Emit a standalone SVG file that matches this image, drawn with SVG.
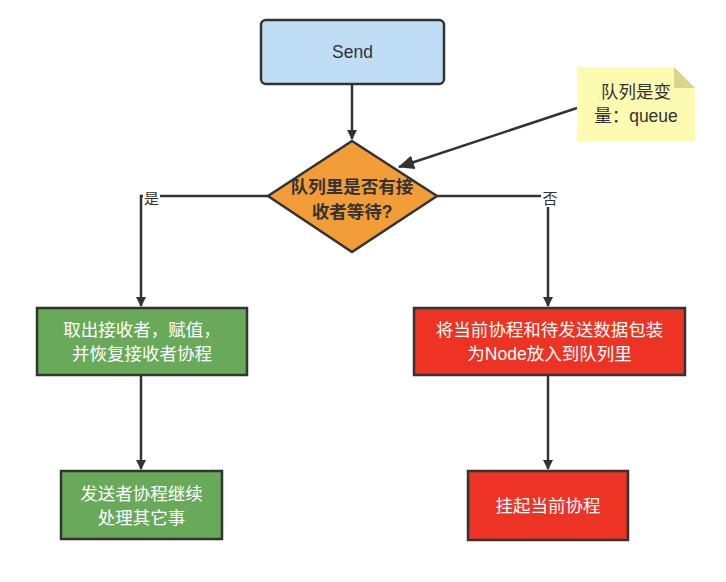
<svg xmlns="http://www.w3.org/2000/svg" width="726" height="582" viewBox="0 0 726 582">
<style>
.box{stroke:#333;stroke-width:2.5}
.conn{fill:none;stroke:#333;stroke-width:2.5}
.t{font-family:"Liberation Sans","Noto Sans CJK SC",sans-serif;font-size:17.5px;text-anchor:middle}
.w{fill:#fff}
.d{fill:#333}
.lbl{font-family:"Liberation Sans","Noto Sans CJK SC",sans-serif;font-size:15px;text-anchor:middle;fill:#333}
</style>
<defs>
<marker id="arr" markerWidth="10" markerHeight="10" refX="9" refY="5" orient="auto" markerUnits="userSpaceOnUse" viewBox="0 0 10 10">
<path d="M0,0 L10,5 L0,10 Z" fill="#333"/>
</marker>
<marker id="arrB" markerWidth="16" markerHeight="14" refX="15" refY="7" orient="auto" markerUnits="userSpaceOnUse" viewBox="0 0 16 14">
<path d="M0,0 L16,7 L0,14 Z" fill="#333"/>
</marker>
</defs>
<rect width="726" height="582" fill="#fff"/>
<g id="connectors">
<line class="conn" x1="352" y1="84" x2="352" y2="139" marker-end="url(#arr)"/>
<polyline class="conn" points="268,196 141,196 141,306" marker-end="url(#arr)"/>
<polyline class="conn" points="437,196 548,196 548,306" marker-end="url(#arr)"/>
<line class="conn" x1="141" y1="375" x2="141" y2="469" marker-end="url(#arr)"/>
<line class="conn" x1="548" y1="375" x2="548" y2="469" marker-end="url(#arr)"/>
<line class="conn" x1="577" y1="108" x2="399" y2="167" marker-end="url(#arrB)"/>
<rect x="143" y="187" width="17" height="20" fill="#fff"/>
<text class="lbl" x="151.5" y="204">是</text>
<rect x="541" y="187" width="17" height="20" fill="#fff"/>
<text class="lbl" x="550" y="204">否</text>
</g>
<g id="send">
<rect class="box" x="261" y="20" width="183" height="64" rx="5" fill="#c0ddf6"/>
<text class="t d" x="352.5" y="58">Send</text>
</g>
<g id="decision">
<polygon class="box" points="352,141 437,196 352,252 268,196" fill="#f29d38"/>
<text class="t d" x="352" y="193" font-weight="bold">队列里是否有接</text>
<text class="t d" x="352" y="218" font-weight="bold">收者等待?</text>
</g>
<g id="note">
<path d="M577,67 L674,67 L695,88 L695,141 L577,141 Z" fill="#fdfab2"/>
<path d="M674,67 L674,88 L695,88 Z" fill="#d9d58e"/>
<text class="t d" x="636" y="98">队列是变</text>
<text class="t d" x="636" y="122">量：queue</text>
</g>
<g id="take">
<rect class="box" x="37" y="308" width="210" height="67" fill="#68aa5a"/>
<text class="t w" x="142" y="336">取出接收者，赋值，</text>
<text class="t w" x="142" y="360">并恢复接收者协程</text>
</g>
<g id="continue">
<rect class="box" x="61" y="471" width="161" height="68" fill="#68aa5a"/>
<text class="t w" x="141.5" y="500">发送者协程继续</text>
<text class="t w" x="141.5" y="524">处理其它事</text>
</g>
<g id="enqueue">
<rect class="box" x="414" y="308" width="271" height="67" fill="#ec3324"/>
<text class="t w" x="549.5" y="336">将当前协程和待发送数据包装</text>
<text class="t w" x="549.5" y="360">为Node放入到队列里</text>
</g>
<g id="park">
<rect class="box" x="468" y="471" width="160" height="69" fill="#ec3324"/>
<text class="t w" x="548" y="512">挂起当前协程</text>
</g>
</svg>
